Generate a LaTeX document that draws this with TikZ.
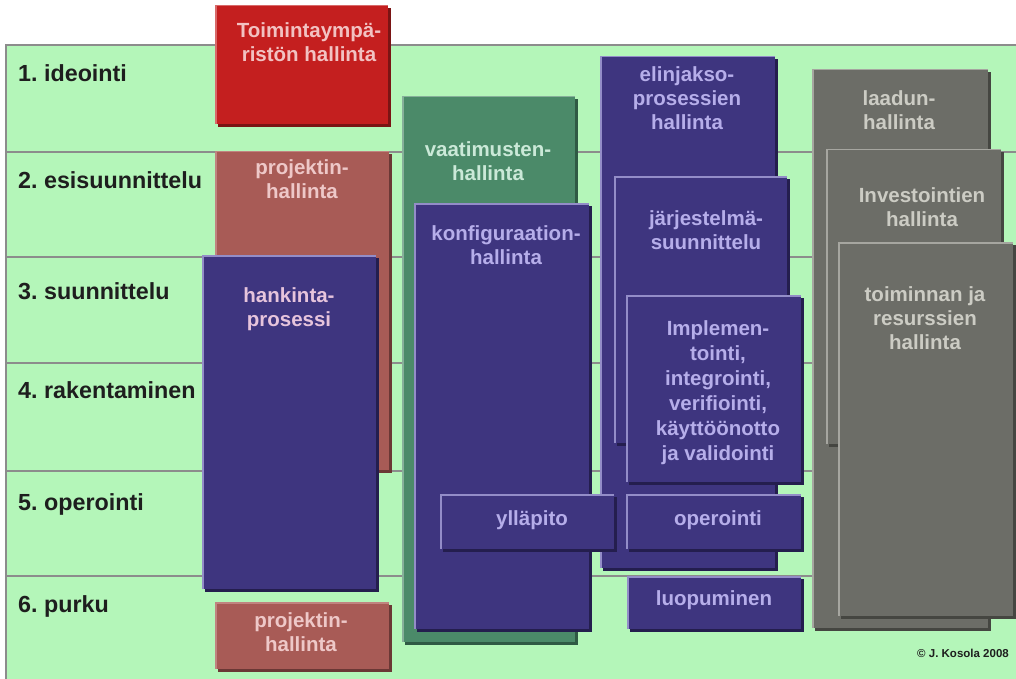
\documentclass[tikz,border=0pt]{standalone}
\usepackage{fontspec}
\setmainfont{Liberation Sans}
% palettes: fill, shadow edge, highlight edge, text
\definecolor{phasebg}{HTML}{B4F6B9}
\definecolor{rule}{HTML}{8C8C8C}
\definecolor{phasetext}{HTML}{1E1E1E}
\definecolor{redbox}{HTML}{C41F1F}
\definecolor{redboxsh}{HTML}{7A1414}
\definecolor{redboxhl}{HTML}{D86A6A}
\definecolor{redboxtx}{HTML}{F2C2C2}
\definecolor{brownbox}{HTML}{A85B56}
\definecolor{brownboxsh}{HTML}{6B3835}
\definecolor{brownboxhl}{HTML}{C08480}
\definecolor{brownboxtx}{HTML}{EEC8C8}
\definecolor{bluebox}{HTML}{3E357F}
\definecolor{blueboxsh}{HTML}{241E4E}
\definecolor{blueboxhl}{HTML}{938DC8}
\definecolor{blueboxtx}{HTML}{B6AEEA}
\definecolor{pinktx}{HTML}{E6C4DC}
\definecolor{greenbox}{HTML}{4B8A69}
\definecolor{greenboxsh}{HTML}{2F5A44}
\definecolor{greenboxhl}{HTML}{86B09A}
\definecolor{greenboxtx}{HTML}{CBE9D8}
\definecolor{graybox}{HTML}{6C6D67}
\definecolor{grayboxsh}{HTML}{454641}
\definecolor{grayboxhl}{HTML}{A6A6A0}
\definecolor{grayboxtx}{HTML}{CCCCC4}
% raised box: x1 y1 x2 y2 palette
\newcommand\raisedbox[5]{%
  \fill[#5sh] (#1+3,#2+3) rectangle (#3,#4);
  \fill[#5] (#1,#2) rectangle (#3-3,#4-3);
  \draw[#5hl, line width=1.5pt] (#1+0.75,#4-3) -- (#1+0.75,#2+0.75) -- (#3-3,#2+0.75);
}
% centred lines with the first baseline as reference
\newcommand\lines[1]{\begin{tabular}[t]{@{}c@{}}#1\end{tabular}}
\frenchspacing
\begin{document}
\begin{tikzpicture}[x=1pt,y=-1pt,
  phase/.style={anchor=base west, inner sep=0pt, text=phasetext,
    font=\fontsize{23.3}{27}\selectfont\bfseries},
  boxlabel/.style={anchor=base, inner sep=0pt,
    font=\fontsize{20.5}{24}\selectfont\bfseries}]
\useasboundingbox (0,0) rectangle (1016,679);
\fill[white] (0,0) rectangle (1016,679);
% phase table
\fill[phasebg] (6,45) rectangle (1016,679);
\draw[rule, line width=1.5pt] (6,679) -- (6,45) -- (1016,45);
\foreach \yy in {152,257,363,471,576}
  \draw[rule, line width=1.5pt] (6,\yy) -- (1016,\yy);
\node[phase] (p1) at (18,82) {1. ideointi};
\node[phase] (p2) at (18,188) {2. esisuunnittelu};
\node[phase] (p3) at (18,299) {3. suunnittelu};
\node[phase] (p4) at (18,398) {4. rakentaminen};
\node[phase] (p5) at (18,510) {5. operointi};
\node[phase] (p6) at (18,612) {6. purku};
% management column
\raisedbox{215}{5}{391}{127}{redbox}
\node[boxlabel, text=redboxtx] (env) at (309,38) {\lines{Toimintaympä-\\ristön hallinta}};
\raisedbox{215}{151}{392}{473}{brownbox}
\node[boxlabel, text=brownboxtx] (proj1) at (302,175) {\lines{projektin-\\hallinta}};
\raisedbox{202}{255}{379}{592}{bluebox}
\node[boxlabel, text=pinktx] (acq) at (289,302) {\lines{hankinta-\\prosessi}};
\raisedbox{215}{602}{392}{672}{brownbox}
\node[boxlabel, text=brownboxtx] (proj2) at (301,627) {\lines{projektin-\\hallinta}};
% requirements and configuration
\raisedbox{402}{96}{578}{645}{greenbox}
\node[boxlabel, text=greenboxtx] (req) at (488,157) {\lines{vaatimusten-\\hallinta}};
\raisedbox{414}{203}{592}{632}{bluebox}
\node[boxlabel, text=blueboxtx] (conf) at (506,240) {\lines{konfiguraation-\\hallinta}};
% life-cycle processes
\raisedbox{600}{56}{778}{571}{bluebox}
\node[boxlabel, text=blueboxtx] (life) at (687,82) {\lines{elinjakso-\\prosessien\\hallinta}};
\raisedbox{614}{176}{790}{446}{bluebox}
\node[boxlabel, text=blueboxtx] (sysd) at (706,225) {\lines{järjestelmä-\\suunnittelu}};
\raisedbox{626}{295}{804}{485}{bluebox}
\node[boxlabel, text=blueboxtx, font=\fontsize{20.5}{25}\selectfont\bfseries] (impl) at (718,335)
  {\lines{Implemen-\\tointi,\\integrointi,\\verifiointi,\\käyttöönotto\\ja validointi}};
\raisedbox{626}{494}{804}{552}{bluebox}
\node[boxlabel, text=blueboxtx] (oper) at (718,525) {operointi};
\raisedbox{627}{576}{804}{632}{bluebox}
\node[boxlabel, text=blueboxtx] (disp) at (714,605) {luopuminen};
\raisedbox{440}{494}{617}{552}{bluebox}
\node[boxlabel, text=blueboxtx] (maint) at (532,525) {ylläpito};
% organisational processes
\raisedbox{812}{69}{991}{631}{graybox}
\node[boxlabel, text=grayboxtx] (qual) at (899,106) {\lines{laadun-\\hallinta}};
\raisedbox{826}{149}{1004}{447}{graybox}
\node[boxlabel, text=grayboxtx] (inv) at (922,202) {\lines{Investointien\\hallinta}};
\raisedbox{838}{242}{1016}{619}{graybox}
\node[boxlabel, text=grayboxtx] (res) at (925,301) {\lines{toiminnan ja\\resurssien\\hallinta}};
% credit
\node[anchor=base east, inner sep=0pt, text=phasetext, font=\fontsize{11.5}{13}\selectfont\bfseries] (credit) at (1009,657) {© J. Kosola 2008};
\end{tikzpicture}
\end{document}
